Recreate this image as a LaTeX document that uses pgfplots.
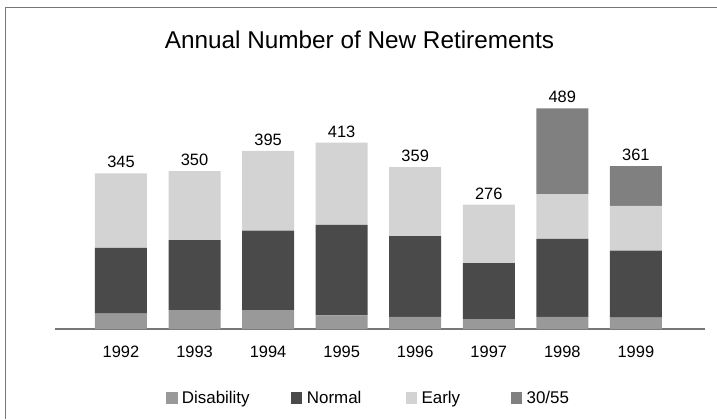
\documentclass[border=0pt]{standalone}
\usepackage{pgfplots}
\pgfplotsset{compat=1.18}
\usepackage{fontspec}
\setmainfont{Liberation Sans}
\definecolor{cDis}{HTML}{999999}
\definecolor{cNor}{HTML}{4A4A4A}
\definecolor{cEar}{HTML}{D3D3D3}
\definecolor{cTF}{HTML}{808080}
\definecolor{frame}{HTML}{777777}
\pgfplotsset{
  common/.style={
    at={(55bp,90bp)}, anchor=south west,
    scale only axis, width=650bp, height=225.5bp,
    xmin=-0.897, xmax=7.94, ymin=0, ymax=500,
    clip=false,
  }
}
\begin{document}
\begin{tikzpicture}[x=1bp,y=1bp]
\path[use as bounding box] (0,0) rectangle (717,419);
\draw[frame, line width=1bp] (5.5,0) -- (5.5,411.5) -- (717,411.5);
\node[font=\fontsize{24.4}{30}\selectfont, anchor=base, inner sep=0pt] at (359.5,370.7) {Annual Number of New Retirements};
\begin{axis}[
  common,
  ybar stacked, bar width=52bp,
  hide y axis,
  axis x line*=bottom,
  x axis line style={draw=frame, line width=1.2bp, -},
  major tick length=0pt,
  xtick={0,...,7},
  xticklabels={1992,1993,1994,1995,1996,1997,1998,1999},
  xticklabel style={font=\fontsize{16.5}{20}\selectfont, anchor=base, inner sep=0pt, yshift=-28bp},
  legend columns=4,
  legend image code/.code={\fill[#1] (0bp,-5.75bp) rectangle (11.5bp,5.75bp);},
  legend style={draw=none, fill=none, at={(axis description cs:0.1708,-0.306)}, anchor=west,
    inner sep=0pt, outer sep=0pt, column sep=0pt,
    font=\fontsize{17}{20}\selectfont,
    nodes={inner sep=0pt},
    /tikz/every odd column/.append style={column sep=4.4bp}},
]
\addplot[fill=cDis, draw=none] coordinates {(0,34) (1,42) (2,42) (3,30) (4,27) (5,22) (6,27) (7,25)};
\addlegendentry{Disability\rule{41.3bp}{0pt}}
\addplot[fill=cNor, draw=none] coordinates {(0,146) (1,155) (2,176) (3,201) (4,179) (5,124) (6,173) (7,149)};
\addlegendentry{Normal\rule{44.2bp}{0pt}}
\addplot[fill=cEar, draw=none] coordinates {(0,165) (1,153) (2,177) (3,182) (4,153) (5,130) (6,99) (7,99)};
\addlegendentry{Early\rule{50.6bp}{0pt}}
\addplot[fill=cTF, draw=none] coordinates {(0,0) (1,0) (2,0) (3,0) (4,0) (5,0) (6,190) (7,88)};
\addlegendentry{30/55}
\end{axis}
\begin{axis}[common, axis lines=none, xtick=\empty, ytick=\empty,
  /pgf/number format/assume math mode=true]
\addplot[only marks, mark=none, point meta=y,
  nodes near coords,
  nodes near coords align={center},
  every node near coord/.append style={font=\fontsize{16.5}{20}\selectfont, anchor=base, inner sep=0pt, yshift=5.5bp, text=black}]
  coordinates {(0,345) (1,350) (2,395) (3,413) (4,359) (5,276) (6,489) (7,361)};
\end{axis}
\end{tikzpicture}
\end{document}
